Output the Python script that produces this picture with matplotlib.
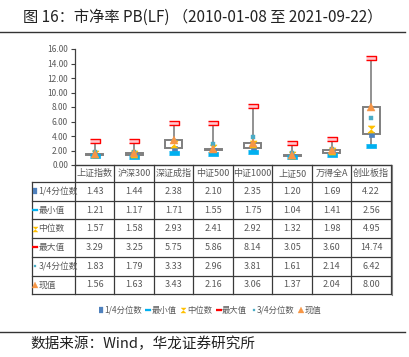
import matplotlib.pyplot as plt
import matplotlib.lines as mlines

plt.rcParams['font.family'] = ['Liberation Sans Narrow', 'Noto Sans CJK SC', 'DejaVu Sans']

categories = ['上证指数', '沪深300', '深证成指', '中证500', '中证1000', '上证50', '万得全A', '创业板指']
q1 = [1.43, 1.44, 2.38, 2.10, 2.35, 1.20, 1.69, 4.22]
mins = [1.21, 1.17, 1.71, 1.55, 1.75, 1.04, 1.41, 2.56]
median = [1.57, 1.58, 2.93, 2.41, 2.92, 1.32, 1.98, 4.95]
maxs = [3.29, 3.25, 5.75, 5.86, 8.14, 3.05, 3.60, 14.74]
q3 = [1.83, 1.79, 3.33, 2.96, 3.81, 1.61, 2.14, 6.42]
current = [1.56, 1.63, 3.43, 2.16, 3.06, 1.37, 2.04, 8.00]
row_labels = ['1/4分位数', '最小值', '中位数', '最大值', '3/4分位数', '现值']
yticks = [0, 2, 4, 6, 8, 10, 12, 14, 16]

W, H = 410, 357
gray_txt = '#595959'
line_gray = '#7f7f7f'

# marker shapes
dash = [(-1, -0.45), (1, -0.45), (1, 0.45), (-1, 0.45)]
tall = [(-0.5, -1), (0.5, -1), (0.5, 1), (-0.5, 1)]
hourglass = [(-1, 1), (1, 1), (-1, -1), (1, -1)]

styles = [
    dict(marker='s', ms=3.6, mfc='#4f81bd', mec='#4f81bd', mew=0.5),
    dict(marker=dash, ms=7, mfc='#00b0f0', mec='#00b0f0', mew=0.5),
    dict(marker=hourglass, ms=5, mfc='#ffc000', mec='#ffc000', mew=0.5),
    dict(marker=dash, ms=7.5, mfc='#ffc7ce', mec='#ff0000', mew=1.0),
    dict(marker='s', ms=2.4, mfc='#4bacc6', mec='#4bacc6', mew=0.3),
    dict(marker='^', ms=5.5, mfc='#f79646', mec='#f79646', mew=0.3),
]
icon_styles = [
    dict(marker=tall, ms=4.5, mfc='#4f81bd', mec='#4f81bd', mew=0.2),
    dict(marker=dash, ms=4, mfc='#00b0f0', mec='#00b0f0', mew=0.2),
    dict(marker=hourglass, ms=3.6, mfc='#ffc000', mec='#ffc000', mew=0.3),
    dict(marker=dash, ms=4, mfc='#ff0000', mec='#ff0000', mew=0.2),
    dict(marker='s', ms=1.8, mfc='#4bacc6', mec='#4bacc6', mew=0.2),
    dict(marker='^', ms=4, mfc='#f79646', mec='#f79646', mew=0.2),
]
series = [q1, mins, median, maxs, q3, current]

fig = plt.figure(figsize=(W / 100, H / 100), dpi=100)

# plot area in pixels
L, R, T, B = 75, 391, 49, 165
ax = fig.add_axes([L / W, 1 - B / H, (R - L) / W, (B - T) / H])
x = list(range(len(categories)))

ax.vlines(x, mins, maxs, color=line_gray, lw=1.2, zorder=1)
lo = [min(a, b) for a, b in zip(q1, current)]
hi = [max(a, b) for a, b in zip(q1, current)]
ax.bar(x, [h - l for h, l in zip(hi, lo)], bottom=lo, width=0.43,
       color='white', edgecolor=line_gray, lw=1.4, zorder=2)
order = [1, 3, 0, 4, 2, 5]
for k in order:
    ax.plot(x, series[k], ls='none', zorder=3 + k, **styles[k])

ax.set_xlim(-0.5, len(categories) - 0.5)
ax.set_ylim(0, 16)
ax.set_yticks(yticks)
ax.set_yticklabels(['%.2f' % v for v in yticks], fontsize=6, color=gray_txt)
ax.set_xticks([])
for s in ['top', 'right', 'bottom']:
    ax.spines[s].set_visible(False)
ax.spines['left'].set_color('#404040')
ax.spines['left'].set_linewidth(0.9)
ax.tick_params(axis='y', length=3, width=0.8, color='#404040', pad=2)
ax.patch.set_alpha(0)

# table overlay in pixel coordinates
tab = fig.add_axes([0, 0, 1, 1], zorder=-1)
tab.set_xlim(0, W)
tab.set_ylim(H, 0)
tab.axis('off')

colw = (R - L) / len(categories)
rows_y = [182 + i * 18.7 for i in range(7)]
tc = '#3a3a3a'
tab.plot([L, R], [B, B], color=tc, lw=1.0)
for i in range(len(categories) + 1):
    tab.plot([L + i * colw] * 2, [B, rows_y[-1]], color=tc, lw=0.9)
tab.plot([32, 32], [rows_y[0], rows_y[-1]], color=tc, lw=0.9)
for yy in rows_y:
    tab.plot([32, R], [yy, yy], color=tc, lw=0.9)
tab.plot([R + 0.8] * 2, [B, rows_y[-1] + 0.8], color='#808080', lw=0.8)

for i, c in enumerate(categories):
    tab.text(L + (i + 0.5) * colw, (B + rows_y[0]) / 2, c, ha='center', va='center',
             fontsize=6.5, color=gray_txt)
for r, (lab, vals) in enumerate(zip(row_labels, series)):
    yc = (rows_y[r] + rows_y[r + 1]) / 2
    tab.plot([35.5], [yc], ls='none', **icon_styles[r])
    tab.text(38.5, yc, lab, ha='left', va='center', fontsize=6.3, color=gray_txt)
    for i, v in enumerate(vals):
        tab.text(L + (i + 0.5) * colw, yc, '%.2f' % v, ha='center', va='center',
                 fontsize=6.5, color=gray_txt)

handles = [mlines.Line2D([], [], ls='none', label=lab, **st)
           for lab, st in zip(row_labels, icon_styles)]
fig.legend(handles=handles, loc='center', bbox_to_anchor=(210 / W, 1 - 310 / H), ncol=6,
           frameon=False, fontsize=6, handlelength=0.5, handletextpad=0.15,
           columnspacing=0.55, labelcolor=gray_txt)

# title, rules and source
tab.text(203, 17, '图 16：市净率 PB(LF) （2010-01-08 至 2021-09-22）', ha='center', va='center',
         fontsize=11, color='#222222', family=['Noto Sans CJK SC', 'DejaVu Sans'])
tab.plot([0, 405], [32, 32], color='#333333', lw=1.0)
tab.plot([0, 405], [332, 332], color='#333333', lw=1.0)
tab.text(30, 344, '数据来源：Wind，华龙证券研究所', ha='left', va='center',
         fontsize=10.5, color='#222222', family=['Noto Sans CJK SC', 'DejaVu Sans'])

fig.savefig('out.png', dpi=100)
